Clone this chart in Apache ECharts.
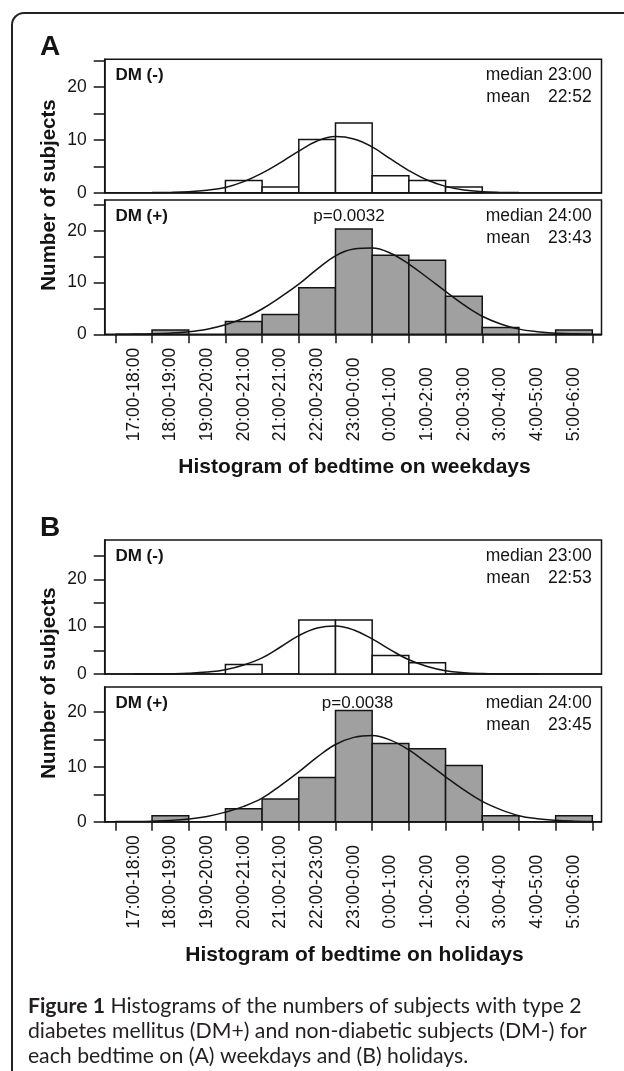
<!DOCTYPE html>
<html>
<head>
<meta charset="utf-8">
<script src="https://cdn.jsdelivr.net/npm/echarts@6/dist/echarts.min.js"></script>
<style>
html,body{margin:0;padding:0;background:#fff;}
#c{width:624px;height:1071px;}
</style>
</head>
<body>
<div id="c"></div>
<script>
// ---------- data ----------
const binLabels = ['17:00-18:00','18:00-19:00','19:00-20:00','20:00-21:00','21:00-21:00','22:00-23:00','23:00-0:00','0:00-1:00','1:00-2:00','2:00-3:00','3:00-4:00','4:00-5:00','5:00-6:00'];

const weekdayNeg = [0, 0, 0, 2.3, 1.1, 10.1, 13.2, 3.2, 2.3, 1.1, 0, 0, 0];
const weekdayPos = [0, 0.85, 0, 2.5, 3.85, 9.0, 20.4, 15.3, 14.35, 7.35, 1.3, 0, 0.85];
const holidayNeg = [0, 0, 0, 2.0, 0, 11.4, 11.4, 3.9, 2.4, 0, 0, 0, 0];
const holidayPos = [0, 1.1, 0, 2.35, 4.15, 8.05, 20.3, 14.3, 13.3, 10.25, 1.1, 0, 1.1];

const curveX = [0,0.5,1,1.5,2,2.5,3,3.5,4,4.5,5,5.5,6,6.5,7,7.5,8,8.5,9,9.5,10,10.5,11,11.5,12,12.5,13];
const weekdayNegCurve = [null,null,0.02,0.06,0.18,0.47,1.0,2.1,3.7,5.7,7.9,9.8,10.65,10.2,8.7,6.4,4.2,2.4,1.2,0.5,0.18,0.06,0.02,null,null,null,null];
const weekdayPosCurve = [0.01,0.04,0.1,0.22,0.48,0.98,1.85,3.1,4.9,7.2,9.7,12.6,15.2,16.5,16.7,15.7,13.6,11.0,8.3,5.7,3.5,2.0,1.0,0.5,0.22,0.09,0.03];
const holidayNegCurve = [null,0.0,0.01,0.05,0.15,0.4,0.9,1.9,3.4,5.7,8.1,9.7,10.15,9.3,7.4,5.1,3.0,1.6,0.7,0.28,0.1,0.03,0.01,0.0,null,null,null];
const holidayPosCurve = [0.02,0.04,0.1,0.22,0.48,0.95,1.75,2.8,4.3,6.6,9.1,11.8,14.1,15.4,15.75,14.9,13.1,10.7,8.2,5.8,3.7,2.2,1.1,0.55,0.25,0.1,0.03];

const yTickValues = [0, 5, 10, 15, 20, 25];
const yLabelValues = [0, 10, 20];
const xTickValues = [0,1,2,3,4,5,6,7,8,9,10,11,12,13];
const xLabelValues = binLabels.map((_, i) => i + 0.5);

const panelTexts = [
  {name: 'DM (-)', median: 'median 23:00', mean: '22:52', p: null},
  {name: 'DM (+)', median: 'median 24:00', mean: '23:43', p: 'p=0.0032'},
  {name: 'DM (-)', median: 'median 23:00', mean: '22:53', p: null},
  {name: 'DM (+)', median: 'median 24:00', mean: '23:45', p: 'p=0.0038'}
];
const titles = ['Histogram of bedtime on weekdays', 'Histogram of bedtime on holidays'];
const captionBold = 'Figure 1';
const captionLines = [
  ' Histograms of the numbers of subjects with type 2',
  'diabetes mellitus (DM+) and non-diabetic subjects (DM-) for',
  'each bedtime on (A) weekdays and (B) holidays.'
];

// ---------- layout / style ----------
const FONT = '"Liberation Sans", Arial, Helvetica, sans-serif';
const INK = '#141414';
const panels = [
  {top: 59.3, height: 133.4, max: 25.3, bars: weekdayNeg, curve: weekdayNegCurve, fill: '#ffffff', bottom: false, pX: 0},
  {top: 200,  height: 134.3, max: 26,   bars: weekdayPos, curve: weekdayPosCurve, fill: '#a0a0a0', bottom: true,  pX: 349},
  {top: 540,  height: 134,   max: 28.3, bars: holidayNeg, curve: holidayNegCurve, fill: '#ffffff', bottom: false, pX: 0},
  {top: 687,  height: 134.7, max: 24.6, bars: holidayPos, curve: holidayPosCurve, fill: '#a0a0a0', bottom: true,  pX: 357.5}
];
const GL = 104.7, GW = 496.8;

const grid = panels.map(p => ({
  left: GL, width: GW, top: p.top, height: p.height,
  show: true, borderColor: INK, borderWidth: 1.5, backgroundColor: 'transparent'
}));

const axLine = {show: true, onZero: false, lineStyle: {color: INK, width: 1.5}};

const xAxis = panels.map((p, i) => ({
  gridIndex: i, type: 'value', min: -0.29, max: 13.25,
  axisLine: axLine, splitLine: {show: false},
  axisTick: p.bottom ? {show: true, customValues: xTickValues, length: 9, inside: false, lineStyle: {color: INK, width: 1.5}} : {show: false},
  axisLabel: p.bottom ? {
    show: true, customValues: xLabelValues, rotate: 90, align: 'left', verticalAlign: 'middle',
    margin: 107, fontSize: 17.5, fontFamily: FONT, color: INK,
    formatter: v => binLabels[Math.round(v - 0.5)] || ''
  } : {show: false}
}));

const yAxis = panels.map((p, i) => ({
  gridIndex: i, type: 'value', min: 0, max: p.max, interval: 5,
  axisLine: axLine, splitLine: {show: false},
  axisTick: {show: true, customValues: yTickValues, length: 11, lineStyle: {color: INK, width: 1.5}},
  axisLabel: {show: true, customValues: yLabelValues, margin: 18, fontSize: 17.5, fontFamily: FONT, color: INK,
    formatter: v => (v % 10 === 0 ? String(v) : '')}
}));

const series = [];
panels.forEach((p, i) => {
  series.push({
    type: 'custom', xAxisIndex: i, yAxisIndex: i, z: 2,
    data: p.bars.map((v, k) => [k, v]).filter(d => d[1] > 0),
    renderItem: (params, api) => {
      const k = api.value(0), v = api.value(1);
      const p0 = api.coord([k, 0]);
      const p1 = api.coord([k + 1, v]);
      return {
        type: 'rect',
        shape: {x: p0[0], y: p1[1], width: p1[0] - p0[0], height: p0[1] - p1[1]},
        style: {fill: p.fill, stroke: INK, lineWidth: 1.5}
      };
    }
  });
  series.push({
    type: 'line', xAxisIndex: i, yAxisIndex: i, z: 3,
    data: curveX.map((x, k) => [x, p.curve[k]]),
    smooth: 0.4, showSymbol: false, connectNulls: false,
    lineStyle: {color: INK, width: 1.5}
  });
});

// ---------- text graphics ----------
const graphic = [];
graphic.push({type: 'rect', shape: {x: 12, y: 13, width: 800, height: 1200, r: 12},
  style: {fill: 'none', stroke: '#222', lineWidth: 2}, silent: true});

function txt(text, x, y, size, weight, align, extra) {
  return Object.assign({type: 'text', x: x, y: y, silent: true,
    style: {text: text, font: (weight || 'normal') + ' ' + size + 'px ' + FONT, fill: INK,
      textAlign: align || 'left', textVerticalAlign: 'middle'}}, extra || {});
}

graphic.push(txt('A', 40, 47, 28, 'bold'));
graphic.push(txt('B', 40, 528, 28, 'bold'));
graphic.push(txt('Number of subjects', 49, 195, 20.5, 'bold', 'center', {rotation: Math.PI / 2}));
graphic.push(txt('Number of subjects', 49, 683, 20.5, 'bold', 'center', {rotation: Math.PI / 2}));

panels.forEach((p, i) => {
  const t = panelTexts[i];
  const y1 = p.top + 16, y2 = p.top + 38;
  graphic.push(txt(t.name, 115.4, y1, 17, 'bold'));
  graphic.push(txt(t.median, 591.7, y1, 17.5, 'normal', 'right'));
  graphic.push(txt('mean', 486.3, y2, 17.5, 'normal', 'left'));
  graphic.push(txt(t.mean, 591.7, y2, 17.5, 'normal', 'right'));
  if (t.p) graphic.push(txt(t.p, p.pX, y1, 17, 'normal', 'center'));
});

graphic.push(txt(titles[0], 354.5, 467.7, 21, 'bold', 'center'));
graphic.push(txt(titles[1], 354.5, 955, 21, 'bold', 'center'));

// caption (size fitted to the reference line width)
const CAPF = 'Lato, "Open Sans", sans-serif';
const mctx = document.createElement('canvas').getContext('2d');
mctx.font = 'bold 20px ' + CAPF;
const wb = mctx.measureText(captionBold).width;
mctx.font = '20px ' + CAPF;
const wr = mctx.measureText(captionLines[0]).width;
const capSize = Math.max(14, Math.min(24, 20 * 554 / (wb + wr)));
graphic.push({type: 'text', x: 27.9, y: 1006, silent: true, style: {
  text: '{b|' + captionBold + '}{r|' + captionLines[0] + '}',
  textVerticalAlign: 'middle', textAlign: 'left',
  rich: {b: {font: 'bold ' + capSize + 'px ' + CAPF, fill: '#231f20'}, r: {font: capSize + 'px ' + CAPF, fill: '#231f20'}}
}});
graphic.push({type: 'text', x: 27.9, y: 1031, silent: true, style: {text: captionLines[1], font: capSize + 'px ' + CAPF, fill: '#231f20', textVerticalAlign: 'middle'}});
graphic.push({type: 'text', x: 27.9, y: 1056, silent: true, style: {text: captionLines[2], font: capSize + 'px ' + CAPF, fill: '#231f20', textVerticalAlign: 'middle'}});

const chart = echarts.init(document.getElementById('c'));
chart.setOption({
  animation: false,
  backgroundColor: '#ffffff',
  grid: grid, xAxis: xAxis, yAxis: yAxis, series: series, graphic: graphic
});
</script>
</body>
</html>
